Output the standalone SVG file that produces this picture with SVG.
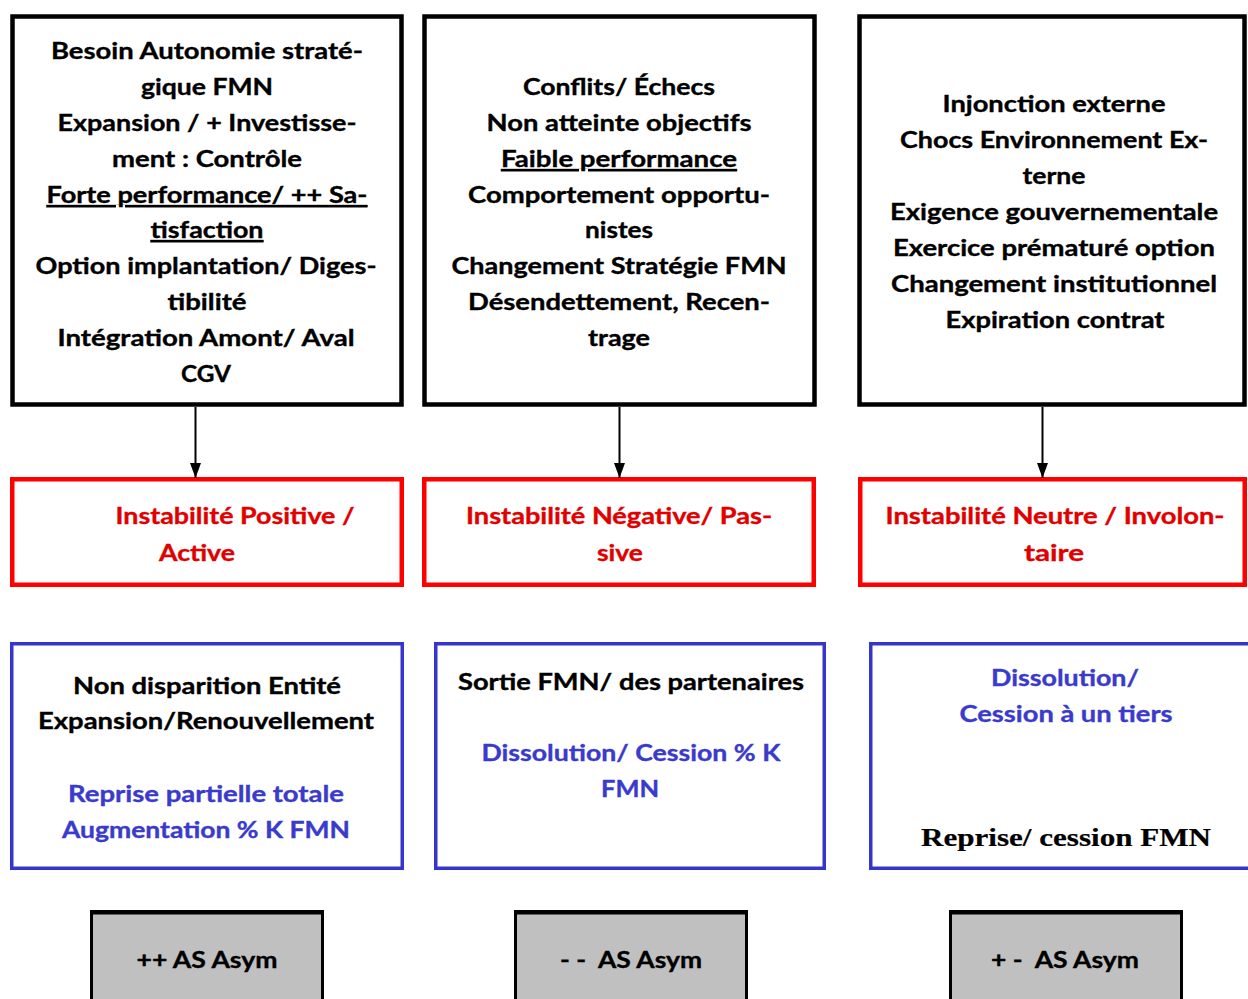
<svg xmlns="http://www.w3.org/2000/svg" width="1248" height="999" viewBox="0 0 1248 999">
  <style>
    text { font-family: Lato, "Open Sans", "Liberation Sans", sans-serif; font-weight: bold; font-size: 22px; text-anchor: middle; fill: #000; stroke: #000; stroke-width: 0.35; }
    .cause { fill: #fff; stroke: #000; stroke-width: 4.5; }
    .state { fill: #fff; stroke: #ff0000; stroke-width: 4.5; }
    .outcome { fill: #fff; stroke: #3535cc; stroke-width: 3.5; }
    .level { fill: #c0c0c0; stroke: #000; stroke-width: 3; }
    .levelTop { stroke: #000; stroke-width: 4.5; }
    .red { fill: #e00000; stroke: #e00000; }
    .blue { fill: #3a3acc; stroke: #3a3acc; }
    .ul { text-decoration: underline; }
    .serif { font-family: "Liberation Serif", "DejaVu Serif", serif; font-size: 26px; stroke-width: 0.2; }
    .pre { white-space: pre; }
    .link { stroke: #000; stroke-width: 2; fill: none; marker-end: url(#arrow); }
  </style>
  <defs>
    <marker id="arrow" markerUnits="userSpaceOnUse" markerWidth="16" markerHeight="12" refX="15" refY="6" orient="auto">
      <path d="M0,0.5 L15,6 L0,11.5 z" fill="#000"/>
    </marker>
  </defs>

  <rect width="1248" height="999" fill="#fff"/>

  <!-- Causes -->
  <g id="cause-positive">
    <rect class="cause" x="12.5" y="16.5" width="389" height="388"/>
    <text x="207" y="59" textLength="312" lengthAdjust="spacingAndGlyphs">Besoin Autonomie straté-</text>
    <text x="207" y="95" textLength="132" lengthAdjust="spacingAndGlyphs">gique FMN</text>
    <text x="207" y="131" textLength="299" lengthAdjust="spacingAndGlyphs">Expansion / + Investisse-</text>
    <text x="207" y="167" textLength="190" lengthAdjust="spacingAndGlyphs">ment : Contrôle</text>
    <text class="ul" x="207" y="203" textLength="321" lengthAdjust="spacingAndGlyphs">Forte performance/ ++ Sa-</text>
    <text class="ul" x="207" y="238" textLength="113" lengthAdjust="spacingAndGlyphs">tisfaction</text>
    <text x="206" y="274" textLength="341" lengthAdjust="spacingAndGlyphs">Option implantation/ Diges-</text>
    <text x="207" y="310" textLength="79" lengthAdjust="spacingAndGlyphs">tibilité</text>
    <text x="206" y="346" textLength="297" lengthAdjust="spacingAndGlyphs">Intégration Amont/ Aval</text>
    <text x="206" y="382" textLength="50" lengthAdjust="spacingAndGlyphs">CGV</text>
  </g>

  <g id="cause-negative">
    <rect class="cause" x="424.5" y="16.5" width="390" height="388"/>
    <text x="619" y="95" textLength="192" lengthAdjust="spacingAndGlyphs">Conflits/ Échecs</text>
    <text x="619" y="131" textLength="265" lengthAdjust="spacingAndGlyphs">Non atteinte objectifs</text>
    <text class="ul" x="619" y="167" textLength="236" lengthAdjust="spacingAndGlyphs">Faible performance</text>
    <text x="619" y="203" textLength="302" lengthAdjust="spacingAndGlyphs">Comportement opportu-</text>
    <text x="619" y="238" textLength="68" lengthAdjust="spacingAndGlyphs">nistes</text>
    <text x="619" y="274" textLength="335" lengthAdjust="spacingAndGlyphs">Changement Stratégie FMN</text>
    <text x="619" y="310" textLength="302" lengthAdjust="spacingAndGlyphs">Désendettement, Recen-</text>
    <text x="619" y="346" textLength="62" lengthAdjust="spacingAndGlyphs">trage</text>
  </g>

  <g id="cause-neutral">
    <rect class="cause" x="859.5" y="16.5" width="385" height="388"/>
    <text x="1054" y="112" textLength="223" lengthAdjust="spacingAndGlyphs">Injonction externe</text>
    <text x="1054" y="148" textLength="308" lengthAdjust="spacingAndGlyphs">Chocs Environnement Ex-</text>
    <text x="1054" y="184" textLength="63" lengthAdjust="spacingAndGlyphs">terne</text>
    <text x="1054" y="220" textLength="328" lengthAdjust="spacingAndGlyphs">Exigence gouvernementale</text>
    <text x="1054" y="256" textLength="322" lengthAdjust="spacingAndGlyphs">Exercice prématuré option</text>
    <text x="1054" y="292" textLength="326" lengthAdjust="spacingAndGlyphs">Changement institutionnel</text>
    <text x="1055" y="328" textLength="219" lengthAdjust="spacingAndGlyphs">Expiration contrat</text>
  </g>

  <!-- Instability types -->
  <g id="state-positive">
    <rect class="state" x="12.25" y="479.25" width="389.5" height="105.5"/>
    <text class="red" x="235" y="524" textLength="239" lengthAdjust="spacingAndGlyphs">Instabilité Positive /</text>
    <text class="red" x="197" y="561" textLength="76" lengthAdjust="spacingAndGlyphs">Active</text>
  </g>
  <g id="state-negative">
    <rect class="state" x="424.25" y="479.25" width="389.5" height="105.5"/>
    <text class="red" x="619" y="524" textLength="306" lengthAdjust="spacingAndGlyphs">Instabilité Négative/ Pas-</text>
    <text class="red" x="620" y="561" textLength="46" lengthAdjust="spacingAndGlyphs">sive</text>
  </g>
  <g id="state-neutral">
    <rect class="state" x="860.25" y="479.25" width="384.5" height="105.5"/>
    <text class="red" x="1055" y="524" textLength="339" lengthAdjust="spacingAndGlyphs">Instabilité Neutre / Involon-</text>
    <text class="red" x="1054" y="561" textLength="60" lengthAdjust="spacingAndGlyphs">taire</text>
  </g>

  <!-- Outcomes -->
  <g id="outcome-positive">
    <rect class="outcome" x="11.75" y="643.75" width="390.5" height="224.5"/>
    <text x="207" y="694" textLength="268" lengthAdjust="spacingAndGlyphs">Non disparition Entité</text>
    <text x="206" y="729" textLength="336" lengthAdjust="spacingAndGlyphs">Expansion/Renouvellement</text>
    <text class="blue" x="206" y="802" textLength="276" lengthAdjust="spacingAndGlyphs">Reprise partielle totale</text>
    <text class="blue" x="206" y="838" textLength="288" lengthAdjust="spacingAndGlyphs">Augmentation % K FMN</text>
  </g>
  <g id="outcome-negative">
    <rect class="outcome" x="435.75" y="643.75" width="388.5" height="224.5"/>
    <text x="631" y="690" textLength="346" lengthAdjust="spacingAndGlyphs">Sortie FMN/ des partenaires</text>
    <text class="blue" x="631" y="761" textLength="299" lengthAdjust="spacingAndGlyphs">Dissolution/ Cession % K</text>
    <text class="blue" x="630" y="797" textLength="58" lengthAdjust="spacingAndGlyphs">FMN</text>
  </g>
  <g id="outcome-neutral">
    <rect class="outcome" x="870.75" y="643.75" width="392" height="224.5"/>
    <text class="blue" x="1065" y="686" textLength="148" lengthAdjust="spacingAndGlyphs">Dissolution/</text>
    <text class="blue" x="1066" y="722" textLength="213" lengthAdjust="spacingAndGlyphs">Cession à un tiers</text>
    <text class="serif" x="1066" y="846" textLength="290" lengthAdjust="spacingAndGlyphs">Reprise/ cession FMN</text>
  </g>

  <!-- Asymmetry levels -->
  <g id="level-positive">
    <rect class="level" x="91.5" y="912" width="231" height="100"/>
    <line class="levelTop" x1="90" y1="912.25" x2="324" y2="912.25"/>
    <text x="207" y="968" textLength="141" lengthAdjust="spacingAndGlyphs">++ AS Asym</text>
  </g>
  <g id="level-negative">
    <rect class="level" x="515.5" y="912" width="231" height="100"/>
    <line class="levelTop" x1="514" y1="912.25" x2="748" y2="912.25"/>
    <text class="pre" x="631" y="968" textLength="142" lengthAdjust="spacingAndGlyphs">- -  AS Asym</text>
  </g>
  <g id="level-neutral">
    <rect class="level" x="950.5" y="912" width="231" height="100"/>
    <line class="levelTop" x1="949" y1="912.25" x2="1183" y2="912.25"/>
    <text class="pre" x="1065" y="968" textLength="148" lengthAdjust="spacingAndGlyphs">+ -  AS Asym</text>
  </g>

  <!-- Connectors -->
  <g id="connectors">
    <line class="link" x1="195.5" y1="407" x2="195.5" y2="478"/>
    <line class="link" x1="619.5" y1="407" x2="619.5" y2="478"/>
    <line class="link" x1="1042.5" y1="407" x2="1042.5" y2="478"/>
  </g>
</svg>
